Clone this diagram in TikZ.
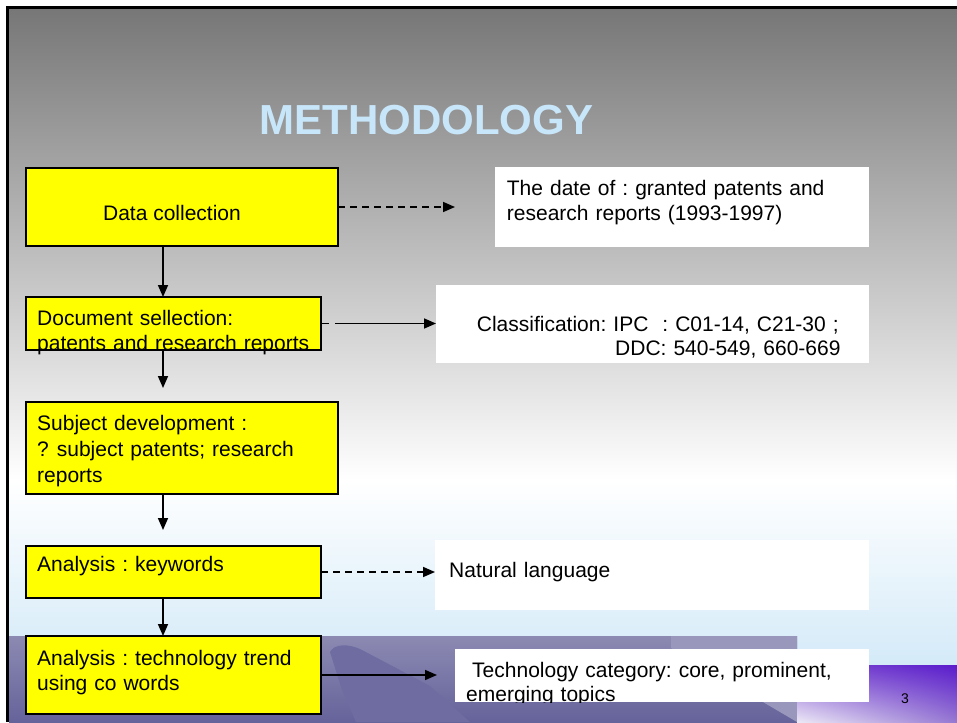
\documentclass[tikz,border=0pt]{standalone}
\usepackage{fontspec}
\setmainfont{Liberation Sans}
\usetikzlibrary{arrows.meta,shadings}
\frenchspacing

\definecolor{bgtop}{RGB}{119,119,119}
\definecolor{bgsky}{RGB}{212,234,248}
\definecolor{titleblue}{RGB}{200,230,250}
\definecolor{bandtop}{RGB}{140,138,178}
\definecolor{bandbot}{RGB}{101,99,154}
\definecolor{bandlight}{RGB}{154,151,188}
\definecolor{bandshade}{RGB}{110,108,160}
\definecolor{boxyellow}{RGB}{255,255,0}
\definecolor{cornerUL}{RGB}{128,80,208}
\definecolor{cornerUR}{RGB}{90,28,204}
\definecolor{cornerLL}{RGB}{236,232,246}
\definecolor{cornerLR}{RGB}{150,120,210}

\begin{document}
\begin{tikzpicture}[x=1pt,y=-1pt,
  ybox/.style={draw=black, line width=2pt, fill=boxyellow, inner sep=0pt, outer sep=0pt, anchor=north west},
  wbox/.style={fill=white, inner sep=0pt, outer sep=0pt, anchor=north west},
  txt/.style={font=\fontsize{21}{25}\selectfont, inner sep=0pt, anchor=base west,
              text width=420pt, align=left},
  flow/.style={line width=1.6pt, -{Triangle[length=12pt,width=10pt]}},
  dflow/.style={flow, dash pattern=on 7pt off 5pt}]

\useasboundingbox (0,0) rectangle (957,722);
\fill[white] (0,0) rectangle (957,722);

% slide background: grey fading to white, then to pale sky blue
\shade[top color=bgtop, bottom color=white] (9,9) rectangle (957,480);
\shade[top color=white, bottom color=bgsky] (9,480) rectangle (957,665);
\fill[bgsky] (9,665) rectangle (957,722);

% purple landscape band along the bottom
\shade[top color=bandtop, bottom color=bandbot] (9,636) rectangle (797,722);
\fill[bandlight] (671,636) -- (797,636) -- (797,722) -- (671,648) -- cycle;
\fill[bandshade] (330,652) .. controls (334,644) and (348,643) .. (362,650)
  -- (430,686) -- (470,722) -- (356,722) -- (342,690) -- cycle;
\shade[upper left=cornerUL, upper right=cornerUR,
       lower left=cornerLL, lower right=cornerLR] (797,665) rectangle (957,722);

% frame
\fill[black] (6,6) rectangle (957,9);
\fill[black] (6,6) rectangle (9,722);

% title
\node[font=\fontsize{42}{48}\selectfont\bfseries, text=titleblue, inner sep=0pt, anchor=base]
  (title) at (426.5,135) {METHODOLOGY};

% process steps
\node[ybox, minimum width=312pt, minimum height=78pt] (dc) at (26,168) {};
\node[ybox, minimum width=295pt, minimum height=53pt] (ds) at (26,297) {};
\node[ybox, minimum width=312pt, minimum height=92pt] (sd) at (26,402) {};
\node[ybox, minimum width=295pt, minimum height=52pt] (kw) at (26,546) {};
\node[ybox, minimum width=295pt, minimum height=78pt] (tt) at (26,636) {};

% notes
\node[wbox, minimum width=374pt, minimum height=80pt] (dt) at (495,167) {};
\node[wbox, minimum width=433pt, minimum height=78pt] (cl) at (436,285) {};
\node[wbox, minimum width=434pt, minimum height=70pt] (nl) at (435,540) {};
\node[wbox, minimum width=414pt, minimum height=53pt] (tc) at (455,649) {};

% step texts
\node[inner sep=0pt, anchor=base, font=\fontsize{21}{25}\selectfont] (dc-t) at (172,220) {Data collection};
\node[txt] (ds-t) at (37,325.7) {Document sellection:\\patents and research reports};
\node[txt, font=\fontsize{21}{26}\selectfont] (sd-t) at (37,430)
  {Subject development :\\?\hspace{8pt}subject patents; research\\reports};
\node[txt] (kw-t) at (37,571.7) {Analysis : keywords};
\node[txt] (tt-t) at (37,665) {Analysis : technology trend\\using co words};

% note texts
\node[txt] (dt-t) at (506.7,195) {The date of : granted patents and\\research reports (1993-1997)};
\node[txt, font=\fontsize{21}{23.3}\selectfont] (cl-t) at (476.7,331.7)
  {Classification: IPC~~: C01-14, C21-30 ;\\\hspace*{138.3pt}DDC: 540-549, 660-669};
\node[txt] (nl-t) at (449,577.3) {Natural language};
\begin{scope}
  \clip (455,649) rectangle (869,702);
  \node[txt, font=\fontsize{21}{24}\selectfont] (tc-t) at (466,677)
    {\hspace*{6pt}Technology category: core, prominent,\\emerging topics};
\end{scope}

% page number
\node[inner sep=0pt, anchor=base, font=\fontsize{14}{16}\selectfont] (pg) at (905,703) {3};

% connectors
\coordinate (a1) at (455,0);
\coordinate (a4) at (437,0);
\draw[dflow] (dc.east) -- (dc.east -| a1);
\draw[flow, dash pattern=on 8pt off 6pt on 300pt off 0pt] (ds.east) -- (ds.east -| cl.west);
\draw[dflow] (kw.east) -- (kw.east -| nl.west);
\draw[flow] (tt.east) -- (tt.east -| a4);

\draw[flow] ([xshift=137pt]dc.south west) -- ([xshift=137pt]ds.north west);
\draw[flow, shorten >=14pt] ([xshift=137pt]ds.south west) -- ([xshift=137pt]sd.north west);
\draw[flow, shorten >=16pt] ([xshift=137pt]sd.south west) -- ([xshift=137pt]kw.north west);
\draw[flow] ([xshift=137pt]kw.south west) -- ([xshift=137pt]tt.north west);
\end{tikzpicture}
\end{document}
